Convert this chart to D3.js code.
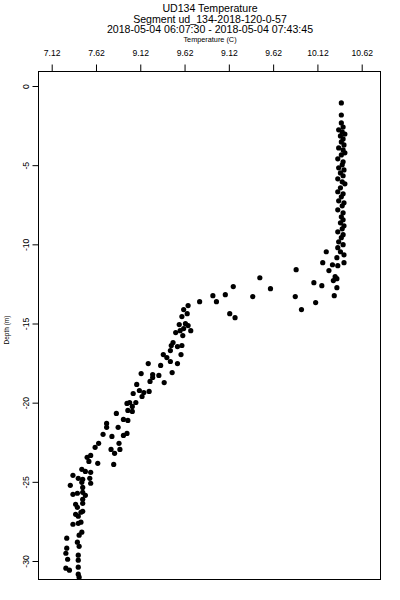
<!DOCTYPE html>
<html>
<head>
<meta charset="utf-8">
<script src="https://cdn.jsdelivr.net/npm/d3@7"></script>
<style>
  html, body { margin: 0; padding: 0; background: #fff; }
  svg text { font-family: "Liberation Sans", Arial, sans-serif; fill: #000; }
</style>
</head>
<body>
<svg id="chart" width="400" height="600"></svg>
<script>
// titles
const titleLines = [
    "UD134 Temperature",
    "Segment ud_134-2018-120-0-57",
    "2018-05-04 06:07:30 - 2018-05-04 07:43:45"
];
const xLabel = "Temperature (C)";
const yLabel = "Depth (m)";

// axis ticks (labels as printed on the original)
const xTicks = [7.12, 7.62, 8.12, 8.62, 9.12, 9.62, 10.12, 10.62];
const xTickLabels = ["7.12", "7.62", "9.12", "9.62", "9.12", "9.62", "10.12", "10.62"];
const yTicks = [0, -5, -10, -15, -20, -25, -30];

// cast samples: temperature (C) and depth (m), same order
const temperature = [
    10.39, 10.39, 10.39, 10.41, 10.36, 10.40, 10.43, 10.38, 10.41, 10.39,
    10.42, 10.36, 10.41, 10.43, 10.39, 10.35, 10.41, 10.40, 10.36, 10.42,
    10.38, 10.41, 10.35, 10.40, 10.43, 10.38, 10.35, 10.41, 10.39, 10.36,
    10.42, 10.40, 10.35, 10.41, 10.39, 10.41, 10.38, 10.42, 10.40, 10.35,
    10.41, 10.39, 10.36, 10.41, 10.35, 10.38, 10.42,
    10.22, 10.34, 10.18, 10.29, 10.35, 10.42, 10.25, 10.32, 10.30, 10.34,
    9.88, 10.08, 10.17, 10.34, 10.31, 10.10, 9.87, 9.94, 9.47, 9.59,
    9.39, 9.17, 8.94, 8.98, 9.08, 9.13, 9.19, 8.79,
    8.66, 8.61, 8.65, 8.59, 8.56, 8.63, 8.66, 8.52, 8.57, 8.61,
    8.69, 8.60, 8.49, 8.47, 8.54, 8.59, 8.46, 8.58, 8.38, 8.42,
    8.46, 8.54, 8.21, 8.35, 8.48, 8.13, 8.26, 8.26, 8.33, 8.08,
    8.23, 8.39, 8.11, 8.16, 8.22, 8.04, 8.14, 7.97, 8.00, 8.07,
    8.03, 7.98, 8.03, 7.85, 7.74, 7.74, 7.93, 7.98, 7.87, 7.70,
    7.80, 7.93, 7.97, 7.88, 7.65, 7.61, 7.79, 7.89, 7.83, 7.82,
    7.52, 7.56, 7.54, 7.64, 7.46, 7.50, 7.56, 7.36, 7.42, 7.47,
    7.55, 7.46, 7.56, 7.33, 7.47, 7.36, 7.41, 7.47, 7.50, 7.47,
    7.39, 7.47, 7.41, 7.39, 7.45, 7.47, 7.42, 7.36, 7.42, 7.45,
    7.46, 7.43, 7.29, 7.41, 7.43, 7.29, 7.28, 7.42, 7.30, 7.42,
    7.28, 7.32, 7.42, 7.42, 7.43
];
const depth = [
    -1.07, -1.83, -2.33, -2.59, -2.77, -2.90, -3.03, -3.15, -3.34, -3.53,
    -3.72, -3.91, -4.04, -4.22, -4.35, -4.60, -4.79, -4.98, -5.17, -5.30,
    -5.49, -5.67, -5.86, -6.05, -6.18, -6.43, -6.68, -6.81, -7.00, -7.25,
    -7.38, -7.57, -7.82, -8.01, -8.26, -8.45, -8.64, -8.83, -9.02, -9.21,
    -9.39, -9.58, -9.84, -10.02, -10.21, -10.47, -10.66,
    -10.47, -10.84, -11.16, -11.29, -11.35, -11.16, -11.66, -12.04, -12.29, -12.17,
    -11.60, -12.42, -12.61, -12.74, -13.24, -13.68, -13.30, -14.12, -12.11, -12.80,
    -13.30, -12.67, -13.24, -13.62, -13.18, -14.38, -14.63, -13.62,
    -13.87, -14.12, -14.38, -14.56, -15.07, -15.01, -15.13, -15.57, -15.45, -15.32,
    -15.45, -15.76, -16.20, -16.39, -16.46, -16.39, -16.71, -16.96, -16.96, -17.15,
    -17.40, -17.53, -17.53, -17.65, -18.10, -18.16, -18.22, -18.41, -18.28, -18.85,
    -18.66, -18.73, -19.23, -19.36, -19.29, -19.42, -19.61, -20.05, -19.99, -19.99,
    -20.24, -20.49, -20.55, -20.68, -21.31, -21.56, -21.06, -21.12, -21.56, -22.00,
    -22.13, -22.07, -21.94, -22.57, -22.57, -22.82, -22.95, -22.95, -23.20, -23.90,
    -23.45, -23.33, -23.71, -23.83, -24.21, -24.34, -24.40, -24.59, -24.78, -24.84,
    -24.78, -25.03, -25.09, -25.22, -25.35, -25.79, -25.72, -25.66, -25.85, -26.10,
    -26.42, -26.36, -26.61, -27.05, -26.92, -26.86, -27.17, -27.68, -27.62, -27.55,
    -28.18, -28.37, -28.56, -28.81, -29.07, -29.19, -29.51, -29.63, -29.89, -29.95,
    -30.45, -30.58, -30.39, -30.83, -31.02
];

const points = temperature.map((t, i) => ({ t: t, d: depth[i] }));

const svg = d3.select("#chart");

// plot frame
const box = { left: 38.5, right: 380.5, top: 71.5, bottom: 579.5 };

const x = d3.scaleLinear().domain([7.12, 10.62]).range([51.7, 361.7]);
const y = d3.scaleLinear().domain([0, -30]).range([86, 561]);

// titles
svg.selectAll(".title")
    .data(titleLines)
    .enter()
    .append("text")
    .attr("class", "title")
    .attr("x", 210)
    .attr("y", (d, i) => [12, 22.5, 33][i])
    .attr("text-anchor", "middle")
    .style("font-size", "10.6px")
    .text(d => d);

svg.append("text")
    .attr("x", 210)
    .attr("y", 42)
    .attr("text-anchor", "middle")
    .style("font-size", "7.3px")
    .text(xLabel);

svg.append("text")
    .attr("transform", "translate(9,330) rotate(-90)")
    .attr("text-anchor", "middle")
    .style("font-size", "6.5px")
    .text(yLabel);

// top axis
const xAxis = d3.axisTop(x)
    .tickValues(xTicks)
    .tickSize(7)
    .tickSizeOuter(0)
    .tickPadding(9)
    .tickFormat((d, i) => xTickLabels[i]);

const gx = svg.append("g")
    .attr("transform", `translate(0,${box.top})`)
    .call(xAxis);
gx.select(".domain").remove();
gx.selectAll("line").attr("stroke", "#000");
gx.selectAll("text")
    .style("font-family", '"Liberation Sans", Arial, sans-serif')
    .style("font-size", "8.6px");

// left axis, labels parallel to the axis
const yAxis = d3.axisLeft(y)
    .tickValues(yTicks)
    .tickSize(6)
    .tickSizeOuter(0)
    .tickFormat(d => d);

const gy = svg.append("g")
    .attr("transform", `translate(${box.left},0)`)
    .call(yAxis);
gy.select(".domain").remove();
gy.selectAll("line").attr("stroke", "#000");
gy.selectAll("text")
    .attr("x", null)
    .attr("dy", null)
    .attr("transform", "translate(-10,0) rotate(-90)")
    .attr("text-anchor", "middle")
    .style("font-family", '"Liberation Sans", Arial, sans-serif')
    .style("font-size", "8.6px");

svg.append("rect")
    .attr("x", box.left)
    .attr("y", box.top)
    .attr("width", box.right - box.left)
    .attr("height", box.bottom - box.top)
    .attr("fill", "none")
    .attr("stroke", "#000")
    .attr("stroke-width", 1);

// samples
svg.selectAll(".dot")
    .data(points)
    .enter()
    .append("circle")
    .attr("class", "dot")
    .attr("cx", d => x(d.t))
    .attr("cy", d => y(d.d))
    .attr("r", 2.6)
    .attr("fill", "#000");
</script>
</body>
</html>
